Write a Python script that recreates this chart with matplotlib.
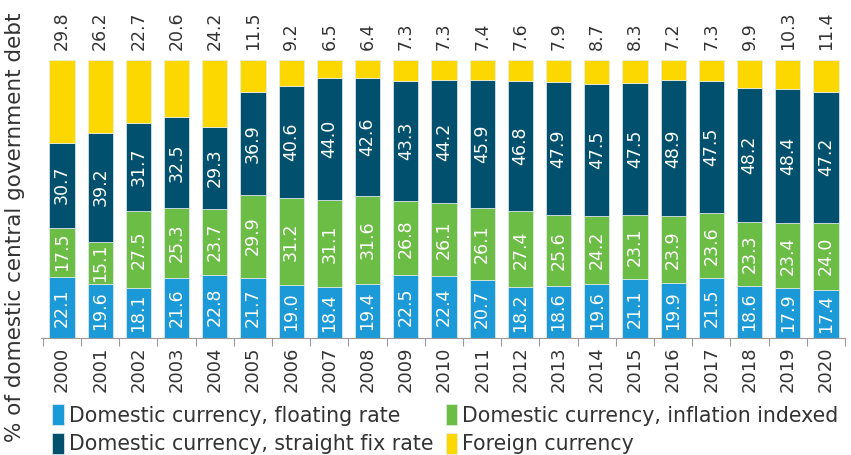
import matplotlib.pyplot as plt
import numpy as np

plt.rcParams['font.family'] = ['DejaVu Sans']

years = [str(y) for y in range(2000, 2021)]
floating = [22.1, 19.6, 18.1, 21.6, 22.8, 21.7, 19.0, 18.4, 19.4, 22.5, 22.4,
            20.7, 18.2, 18.6, 19.6, 21.1, 19.9, 21.5, 18.6, 17.9, 17.4]
indexed = [17.5, 15.1, 27.5, 25.3, 23.7, 29.9, 31.2, 31.1, 31.6, 26.8, 26.1,
           26.1, 27.4, 25.6, 24.2, 23.1, 23.9, 23.6, 23.3, 23.4, 24.0]
fixed = [30.7, 39.2, 31.7, 32.5, 29.3, 36.9, 40.6, 44.0, 42.6, 43.3, 44.2,
         45.9, 46.8, 47.9, 47.5, 47.5, 48.9, 47.5, 48.2, 48.4, 47.2]
foreign = [29.8, 26.2, 22.7, 20.6, 24.2, 11.5, 9.2, 6.5, 6.4, 7.3, 7.3,
           7.4, 7.6, 7.9, 8.7, 8.3, 7.2, 7.3, 9.9, 10.3, 11.4]

series = [
    (floating, '#1b9ad7', 'Domestic currency, floating rate'),
    (indexed, '#6cbd45', 'Domestic currency, inflation indexed'),
    (fixed, '#00506e', 'Domestic currency, straight fix rate'),
    (foreign, '#fcd800', 'Foreign currency'),
]

fig = plt.figure(figsize=(8.51, 4.55), dpi=100)
ax = fig.add_axes([41/851, 1 - 338/455, 804/851, 278/455])
x = np.arange(len(years))
bottom = np.zeros(len(years))
bars = []
for vals, col, lab in series:
    vals = np.array(vals)
    b = ax.bar(x, vals, bottom=bottom, width=0.66, color=col, label=lab,
               edgecolor='#e6eef2', linewidth=0.5)
    bars.append(b)
    if col != '#fcd800':
        for xi, v, b0 in zip(x, vals, bottom):
            ax.text(xi, b0 + v / 2, f'{v:.1f}', rotation=90, ha='center', va='center',
                    color='white', fontsize=12.5)
    else:
        for xi, v in zip(x, vals):
            ax.text(xi, 103.5, f'{v:.1f}', rotation=90, ha='center', va='bottom',
                    color='#333333', fontsize=12.5, clip_on=False)
    bottom += vals

ax.set_xlim(-0.55, 20.5)
ax.set_ylim(0, 100)
ax.set_yticks([])
ax.set_xticks(x)
ax.set_xticklabels(years, rotation=90, fontsize=13, color='#333333')
ax.set_xticks(np.arange(-0.5, 21, 1), minor=True)
ax.tick_params(axis='x', which='major', length=0, pad=6)
ax.tick_params(axis='x', which='minor', length=6, color='#999999', width=0.8)
for s in ['top', 'right', 'left']:
    ax.spines[s].set_visible(False)
ax.spines['bottom'].set_color('#999999')
ax.spines['bottom'].set_linewidth(0.8)

fig.text(15/851, 0.5, '% of domestic central government debt', rotation=90,
         ha='center', va='center', fontsize=15.5, color='#333333')

handles = [bars[0], bars[2], bars[1], bars[3]]
labels = [series[0][2], series[2][2], series[1][2], series[3][2]]
fig.legend(handles, labels, ncol=2, loc='lower left', bbox_to_anchor=(40/851, -0.026),
           frameon=False, fontsize=14.8, handlelength=0.55, handleheight=1.2,
           handletextpad=0.25, columnspacing=0.6, labelspacing=0.35,
           borderpad=0.1, labelcolor='#333333')

fig.savefig('out.png', dpi=100)
